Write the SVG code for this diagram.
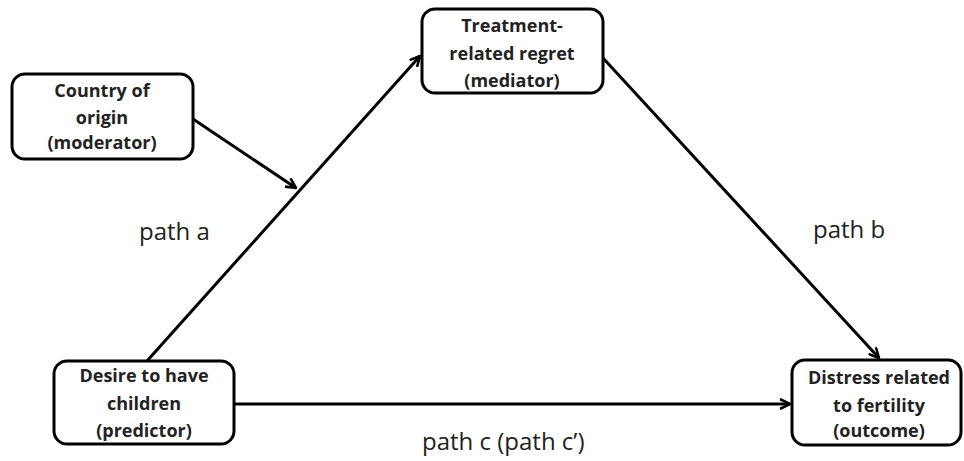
<svg xmlns="http://www.w3.org/2000/svg" width="964" height="461" viewBox="0 0 964 461">
  <style>
    .box { fill: #fff; stroke: #000; stroke-width: 3; }
    .lbl { font-family: "Open Sans", "Liberation Sans", sans-serif; font-weight: bold; font-size: 18px; text-anchor: middle; fill: #222; }
    .path { font-family: "Open Sans", "Liberation Sans", sans-serif; font-size: 24px; fill: #222; }
    .edge { stroke: #000; stroke-width: 3; fill: none; }
  </style>
  <defs>
    <marker id="arrow" viewBox="0 0 12 12" refX="11" refY="6" markerWidth="12" markerHeight="12" markerUnits="userSpaceOnUse" orient="auto">
      <path d="M1,1 L11,6 L1,11" fill="none" stroke="#000" stroke-width="2.6" stroke-linejoin="miter"/>
    </marker>
  </defs>
  <rect width="964" height="461" fill="#fff"/>

  <g id="connectors">
    <line class="edge" x1="147" y1="361" x2="420" y2="56" marker-end="url(#arrow)"/>
    <line class="edge" x1="193" y1="119" x2="296" y2="188" marker-end="url(#arrow)"/>
    <line class="edge" x1="603" y1="58" x2="879" y2="358" marker-end="url(#arrow)"/>
    <line class="edge" x1="234" y1="404" x2="790" y2="404" marker-end="url(#arrow)"/>
  </g>

  <g id="moderator">
    <rect class="box" x="12" y="74" width="181" height="85" rx="13"/>
    <text class="lbl" x="102" y="97">Country of</text>
    <text class="lbl" x="102" y="124">origin</text>
    <text class="lbl" x="102" y="149">(moderator)</text>
  </g>

  <g id="mediator">
    <rect class="box" x="422" y="9" width="181" height="84" rx="13"/>
    <text class="lbl" x="512" y="32">Treatment-</text>
    <text class="lbl" x="512" y="60">related regret</text>
    <text class="lbl" x="512" y="87">(mediator)</text>
  </g>

  <g id="predictor">
    <rect class="box" x="54" y="361" width="180" height="83" rx="13"/>
    <text class="lbl" x="144" y="382">Desire to have</text>
    <text class="lbl" x="144" y="410">children</text>
    <text class="lbl" x="144" y="437">(predictor)</text>
  </g>

  <g id="outcome">
    <rect class="box" x="792" y="360" width="169" height="85" rx="13"/>
    <text class="lbl" x="879" y="384">Distress related</text>
    <text class="lbl" x="879" y="412">to fertility</text>
    <text class="lbl" x="879" y="437">(outcome)</text>
  </g>

  <text class="path" x="139" y="240">path a</text>
  <text class="path" x="813" y="238">path b</text>
  <text class="path" x="422" y="450">path c (path c’)</text>
</svg>
